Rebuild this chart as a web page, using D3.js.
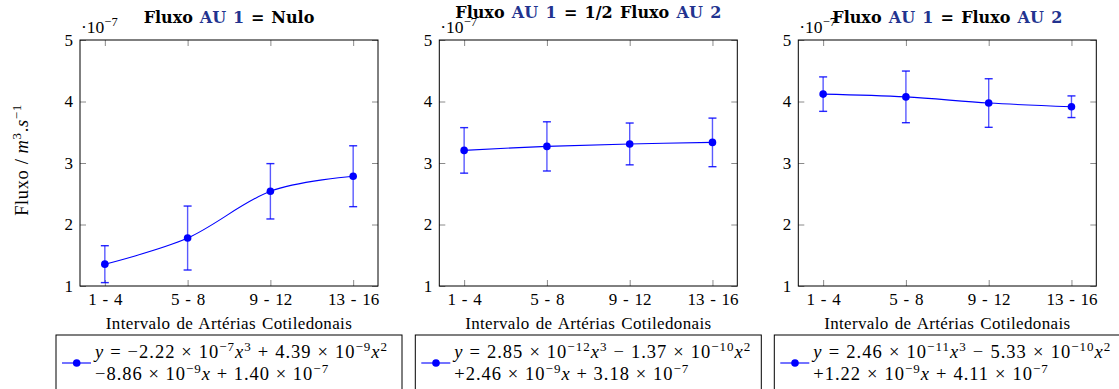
<!DOCTYPE html>
<html><head><meta charset="utf-8">
<script src="https://cdn.jsdelivr.net/npm/d3@7"></script>
<style>
body{margin:0;background:#fff;}
svg{display:block;}
text{font-family:"Liberation Serif","DejaVu Serif",serif;fill:#000;}
.ttl{font-family:"DejaVu Serif",serif;font-weight:bold;}
</style></head>
<body>
<script>
// ---- data ----
const categories = ["1 - 4", "5 - 8", "9 - 12", "13 - 16"];
const yTicks = [1e-7, 2e-7, 3e-7, 4e-7, 5e-7];
const flowNulo  = [1.355e-7, 1.78e-7, 2.54e-7, 2.785e-7];
const errNulo   = [0.30e-7, 0.52e-7, 0.45e-7, 0.495e-7];
const flowHalf  = [3.205e-7, 3.27e-7, 3.31e-7, 3.335e-7];
const errHalf   = [0.37e-7, 0.40e-7, 0.34e-7, 0.395e-7];
const flowEqual = [4.12e-7, 4.075e-7, 3.975e-7, 3.915e-7];
const errEqual  = [0.28e-7, 0.42e-7, 0.395e-7, 0.176e-7];
const panelTitles = [
  [["Fluxo ", 0], ["AU 1", 1], [" = Nulo", 0]],
  [["Fluxo ", 0], ["AU 1", 1], [" = 1/2 Fluxo ", 0], ["AU 2", 1]],
  [["Fluxo ", 0], ["AU 1", 1], [" = Fluxo ", 0], ["AU 2", 1]]
];
const legendEq = [
  [[["y","i"],[" = −2.22 × 10","n"],["−7","s"],["x","i"],["3","s"],[" + 4.39 × 10","n"],["−9","s"],["x","i"],["2","s"]],
   [["−8.86 × 10","n"],["−9","s"],["x","i"],[" + 1.40 × 10","n"],["−7","s"]]],
  [[["y","i"],[" = 2.85 × 10","n"],["−12","s"],["x","i"],["3","s"],[" − 1.37 × 10","n"],["−10","s"],["x","i"],["2","s"]],
   [["+2.46 × 10","n"],["−9","s"],["x","i"],[" + 3.18 × 10","n"],["−7","s"]]],
  [[["y","i"],[" = 2.46 × 10","n"],["−11","s"],["x","i"],["3","s"],[" − 5.33 × 10","n"],["−10","s"],["x","i"],["2","s"]],
   [["+1.22 × 10","n"],["−9","s"],["x","i"],[" + 4.11 × 10","n"],["−7","s"]]]
];
const series = [[flowNulo, errNulo], [flowHalf, errHalf], [flowEqual, errEqual]];
const xLabel = "Intervalo de Artérias Cotiledonais";

// ---- layout ----
const W = 1119, H = 389;
const panelLeft = [80, 439.3, 798.3];
const pw = 298, plotTop = 40, plotBottom = 286;
const titleY = [22.5, 18, 22.5];
const titleW = [171, 266, 230];
const legW = [[295, 234], [299, 235], [300, 235.5]];
const BLUE = "#0000ff", DARKBLUE = "#22338f", TICK = "#8a8a8a";
const SERIF = "'Liberation Serif','DejaVu Serif',serif";

const svg = d3.select("body").append("svg").attr("width", W).attr("height", H);

function addSegs(textSel, segs, fs, supFs, supRise) {
  let raised = false;
  segs.forEach(([t, st]) => {
    const ts = textSel.append("tspan").text(t).style("white-space", "pre");
    if (st === "s") {
      ts.attr("font-size", supFs).attr("dy", raised ? 0 : -supRise); raised = true;
    } else {
      ts.attr("font-size", fs);
      if (raised) { ts.attr("dy", supRise); raised = false; }
      if (st === "i") ts.attr("font-style", "italic");
    }
  });
}
// spread letters slightly, then widen inter-word spaces so the text spans the target width
function fitWidth(sel, target, ls) {
  sel.style("letter-spacing", (ls || 0) + "px").style("word-spacing", "0px");
  const w = sel.node().getBBox().width;
  const n = (sel.text().match(/ /g) || []).length;
  if (n) sel.style("word-spacing", Math.max(0, (target - w) / n) + "px");
}

// y axis label
const yl = svg.append("text").attr("transform", `translate(28,${(plotTop + plotBottom) / 2 - 3}) rotate(-90)`)
  .attr("text-anchor", "middle").style("font-family", SERIF);
addSegs(yl, [["Fluxo / ","n"],["m","i"],["3","s"],[".","n"],["s","i"],["−1","s"]], 18.5, 13, 7.5);
fitWidth(yl, 106, 0.6);

series.forEach(([vals, errs], p) => {
  const L = panelLeft[p], R = L + pw;
  const x = d3.scalePoint().domain(categories).range([L, R]).padding(0.3);
  const y = d3.scaleLinear().domain([1e-7, 5e-7]).range([plotBottom, plotTop]);
  const g = svg.append("g");
  const fmt = d => String(Math.round(d * 1e7));

  const ax = (gen, tr, labels) => {
    const a = g.append("g").attr("transform", tr).call(gen);
    a.select(".domain").remove();
    a.selectAll(".tick line").attr("stroke", TICK);
    a.attr("font-family", null);
    a.selectAll("text").attr("font-size", 17).style("font-family", SERIF).attr("fill", "#000")
      .style("word-spacing", "1.5px");
    if (!labels) a.selectAll("text").remove();
    return a;
  };
  ax(d3.axisLeft(y).tickValues(yTicks).tickFormat(fmt).tickSize(-6).tickPadding(7), `translate(${L},0)`, true);
  ax(d3.axisRight(y).tickValues(yTicks).tickSize(-6), `translate(${R},0)`, false);
  ax(d3.axisBottom(x).tickSize(-6).tickPadding(7), `translate(0,${plotBottom})`, true);
  ax(d3.axisTop(x).tickSize(-6), `translate(0,${plotTop})`, false);

  g.append("rect").attr("x", L).attr("y", plotTop).attr("width", pw).attr("height", plotBottom - plotTop)
    .attr("fill", "none").attr("stroke", "#000").attr("stroke-width", 1);

  const mt = g.append("text").attr("x", L + 1).attr("y", 33).style("font-family", SERIF);
  addSegs(mt, [["·10","n"],["−7","s"]], 17.5, 12.5, 7);

  const tt = g.append("text").attr("class", "ttl").attr("x", (L + R) / 2).attr("y", titleY[p])
    .attr("text-anchor", "middle").attr("font-size", 16);
  panelTitles[p].forEach(([t, c]) => tt.append("tspan").text(t).style("white-space", "pre")
    .attr("fill", c ? DARKBLUE : "#000"));
  fitWidth(tt, titleW[p], 0);

  g.append("text").attr("x", (L + R) / 2).attr("y", 329).attr("text-anchor", "middle")
    .style("font-family", SERIF)
    .attr("font-size", 17).style("letter-spacing", "0.35px").style("word-spacing", "1.5px").text(xLabel);

  const pts = categories.map((c, i) => ({c, v: vals[i], e: errs[i]}));
  const eb = g.append("g").attr("stroke", BLUE).attr("stroke-opacity", 0.65).attr("stroke-width", 1.4);
  pts.forEach(d => {
    const cx = x(d.c), y1 = y(d.v + d.e), y2 = y(d.v - d.e);
    eb.append("line").attr("x1", cx).attr("x2", cx).attr("y1", y1).attr("y2", y2);
    eb.append("line").attr("x1", cx - 4).attr("x2", cx + 4).attr("y1", y1).attr("y2", y1).attr("stroke-opacity", 0.85);
    eb.append("line").attr("x1", cx - 4).attr("x2", cx + 4).attr("y1", y2).attr("y2", y2).attr("stroke-opacity", 0.85);
  });
  g.append("path").datum(pts).attr("fill", "none").attr("stroke", BLUE).attr("stroke-width", 1.1)
    .attr("d", d3.line().x(d => x(d.c)).y(d => y(d.v)).curve(d3.curveCardinal.tension(0)));
  g.selectAll("circle.m").data(pts).join("circle").attr("class", "m")
    .attr("cx", d => x(d.c)).attr("cy", d => y(d.v)).attr("r", 3.8).attr("fill", BLUE);

  const bx = (L + R) / 2 - 173;
  g.append("rect").attr("x", bx).attr("y", 335).attr("width", 346).attr("height", 70)
    .attr("fill", "#fff").attr("stroke", "#000").attr("stroke-width", 1);
  g.append("line").attr("x1", bx + 6).attr("x2", bx + 35).attr("y1", 363).attr("y2", 363)
    .attr("stroke", BLUE).attr("stroke-width", 1.1);
  g.append("circle").attr("cx", bx + 20.7).attr("cy", 363).attr("r", 3.8).attr("fill", BLUE);
  legendEq[p].forEach((line, li) => {
    const t = g.append("text").attr("x", bx + 39).attr("y", li ? 380 : 358)
      .style("font-family", SERIF);
    addSegs(t, line, 18.5, 13, 7);
    fitWidth(t, legW[p][li], 1.0);
  });
});
</script>
</body></html>
